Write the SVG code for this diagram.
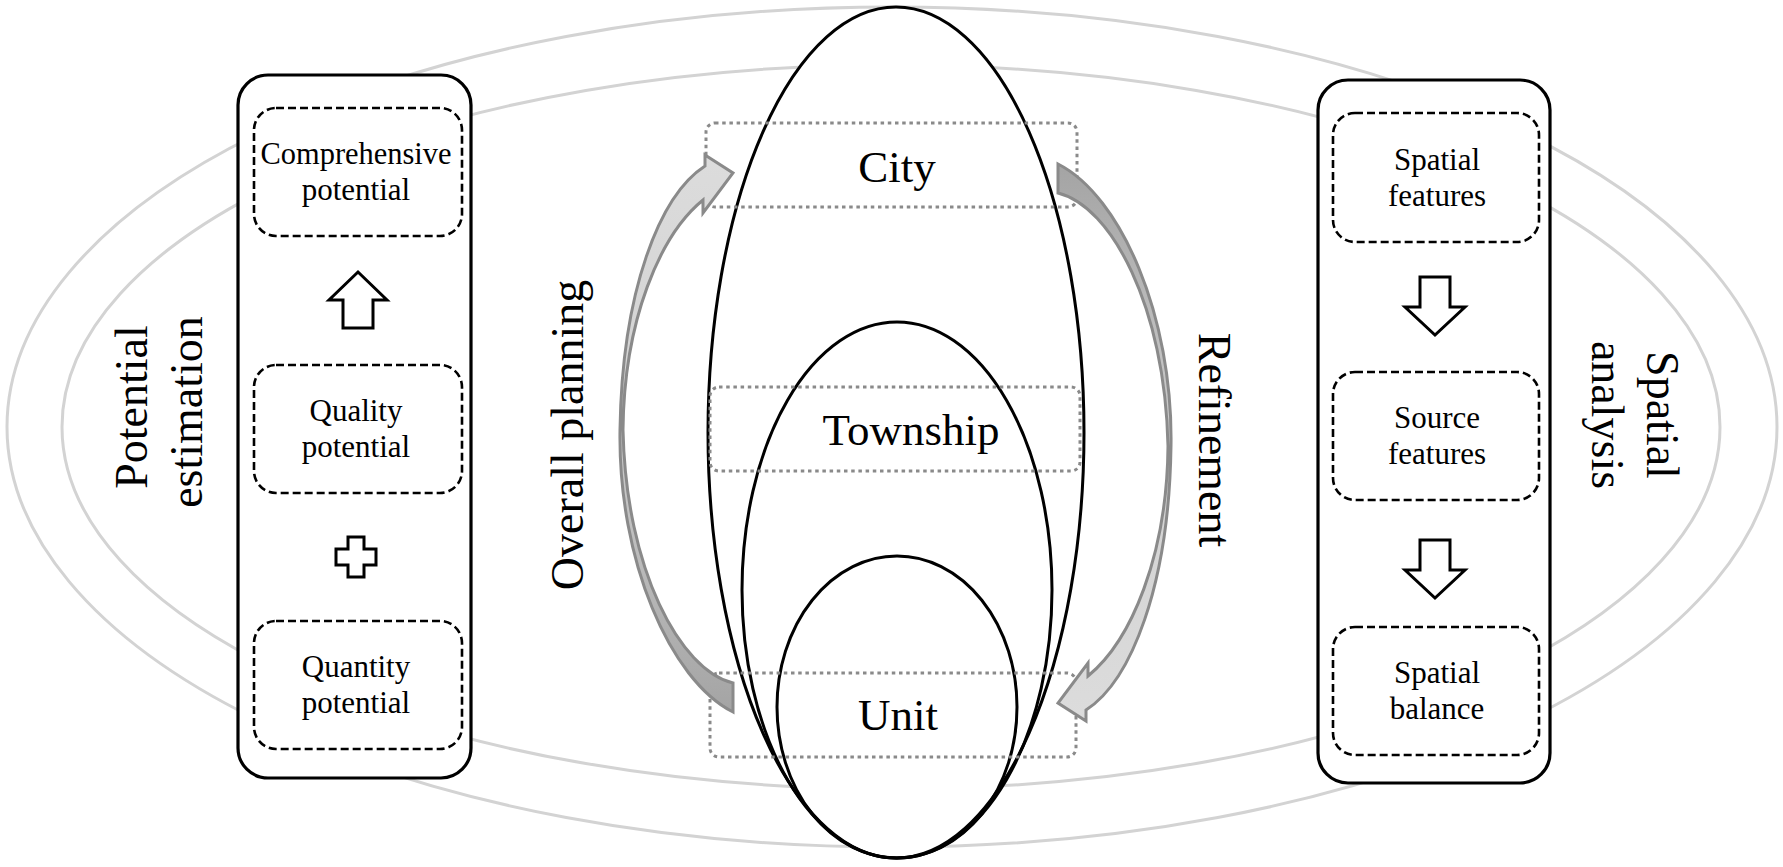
<svg xmlns="http://www.w3.org/2000/svg" width="1783" height="867" viewBox="0 0 1783 867">
<style>
.ring{fill:none;stroke:#d3d3d3;stroke-width:3}
.ell{fill:#fff;stroke:#000;stroke-width:3}
.ellnf{fill:none;stroke:#000;stroke-width:3}
.panel{fill:#fff;stroke:#000;stroke-width:3.2}
.dash{fill:none;stroke:#000;stroke-width:2.6;stroke-dasharray:8 4}
.dot{fill:none;stroke:#8a8a8a;stroke-width:3;stroke-dasharray:3.5 3.7}
.hollow{fill:#fff;stroke:#000;stroke-width:3;stroke-linejoin:miter}
.garrow{stroke:#8a8a8a;stroke-width:3;stroke-linejoin:miter}
.small{font-family:"Liberation Serif","Times New Roman",serif;font-size:31px;fill:#000;text-anchor:middle}
.big{font-family:"Liberation Serif","Times New Roman",serif;font-size:45px;fill:#000;text-anchor:middle}
.side{font-family:"Liberation Serif","Times New Roman",serif;font-size:46px;fill:#000;text-anchor:middle}
</style>
<defs>
<linearGradient id="gfill" x1="0" y1="0" x2="0" y2="1">
<stop offset="0" stop-color="#dcdcdc"/>
<stop offset="0.45" stop-color="#d2d2d2"/>
<stop offset="1" stop-color="#a4a4a4"/>
</linearGradient>
</defs>
<rect width="1783" height="867" fill="#fff"/>

<g id="rings">
<ellipse class="ring" cx="892" cy="427" rx="885" ry="420"/>
<ellipse class="ring" cx="891" cy="427" rx="829" ry="362"/>
</g>

<g id="city">
<ellipse class="ell" cx="896" cy="432.5" rx="188" ry="425.5"/>
</g>
<g id="township">
<ellipse class="ellnf" cx="897" cy="590" rx="155" ry="268"/>
</g>
<g id="unit">
<ellipse class="ellnf" cx="897" cy="707" rx="120" ry="151"/>
</g>

<g id="level-boxes">
<rect class="dot" x="706" y="123" width="371" height="84" rx="9"/>
<rect class="dot" x="710" y="387" width="370" height="84" rx="9"/>
<rect class="dot" x="710" y="673" width="366" height="84" rx="9"/>
<text class="big" x="897" y="182">City</text>
<text class="big" x="911" y="445">Township</text>
<text class="big" x="898" y="730">Unit</text>
</g>

<g id="connectors">
<path id="overall-arrow" class="garrow" fill="url(#gfill)" d="M705,166 L705,155 L733,173 L703,213 L703,200 C660,235 624,320 623,430 C626,570 680,670 733,683 L733,712 C670,680 618,560 620,430 C622,290 660,195 705,166 Z"/>
<path id="refine-arrow" class="garrow" fill="url(#gfill)" transform="rotate(180 895.5 438)" d="M705,166 L705,155 L733,173 L703,213 L703,200 C660,235 624,320 623,430 C626,570 680,670 733,683 L733,712 C670,680 618,560 620,430 C622,290 660,195 705,166 Z"/>
</g>

<g id="labels">
<text class="side" transform="rotate(-90 583 435)" x="583" y="435">Overall planning</text>
<text class="side" transform="rotate(90 1199 440)" x="1199" y="440">Refinement</text>
<text class="side" transform="rotate(-90 147 407)" x="147" y="407">Potential</text>
<text class="side" transform="rotate(-90 202 412)" x="202" y="412">estimation</text>
<text class="side" transform="rotate(90 1647 415)" x="1647" y="415">Spatial</text>
<text class="side" transform="rotate(90 1592 415)" x="1592" y="415">analysis</text>
</g>

<g id="potential-panel">
<rect class="panel" x="238" y="75" width="233" height="703" rx="30"/>
<g id="comprehensive">
<rect class="dash" x="254" y="108" width="208" height="128" rx="22"/>
<text class="small" x="356" y="164" textLength="191" lengthAdjust="spacingAndGlyphs">Comprehensive</text>
<text class="small" x="356" y="200">potential</text>
</g>
<path class="hollow" d="M343,328 L373,328 L373,300 L387,300 L358,272 L329,300 L343,300 Z"/>
<g id="quality">
<rect class="dash" x="254" y="365" width="208" height="128" rx="22"/>
<text class="small" x="356" y="421">Quality</text>
<text class="small" x="356" y="457">potential</text>
</g>
<path class="hollow" d="M348,537 h16 v12 h12 v16 h-12 v12 h-16 v-12 h-12 v-16 h12 z"/>
<g id="quantity">
<rect class="dash" x="254" y="621" width="208" height="128" rx="22"/>
<text class="small" x="356" y="677">Quantity</text>
<text class="small" x="356" y="713">potential</text>
</g>
</g>

<g id="spatial-panel">
<rect class="panel" x="1318" y="80" width="232" height="703" rx="30"/>
<g id="spatial-features">
<rect class="dash" x="1333" y="113" width="206" height="129" rx="22"/>
<text class="small" x="1437" y="170">Spatial</text>
<text class="small" x="1437" y="206">features</text>
</g>
<path class="hollow" d="M1420,277 L1450,277 L1450,307 L1465,307 L1435,335 L1405,307 L1420,307 Z"/>
<g id="source-features">
<rect class="dash" x="1333" y="372" width="206" height="128" rx="22"/>
<text class="small" x="1437" y="428">Source</text>
<text class="small" x="1437" y="464">features</text>
</g>
<path class="hollow" d="M1420,540 L1450,540 L1450,570 L1465,570 L1435,598 L1405,570 L1420,570 Z"/>
<g id="spatial-balance">
<rect class="dash" x="1333" y="627" width="206" height="128" rx="22"/>
<text class="small" x="1437" y="683">Spatial</text>
<text class="small" x="1437" y="719">balance</text>
</g>
</g>
</svg>
